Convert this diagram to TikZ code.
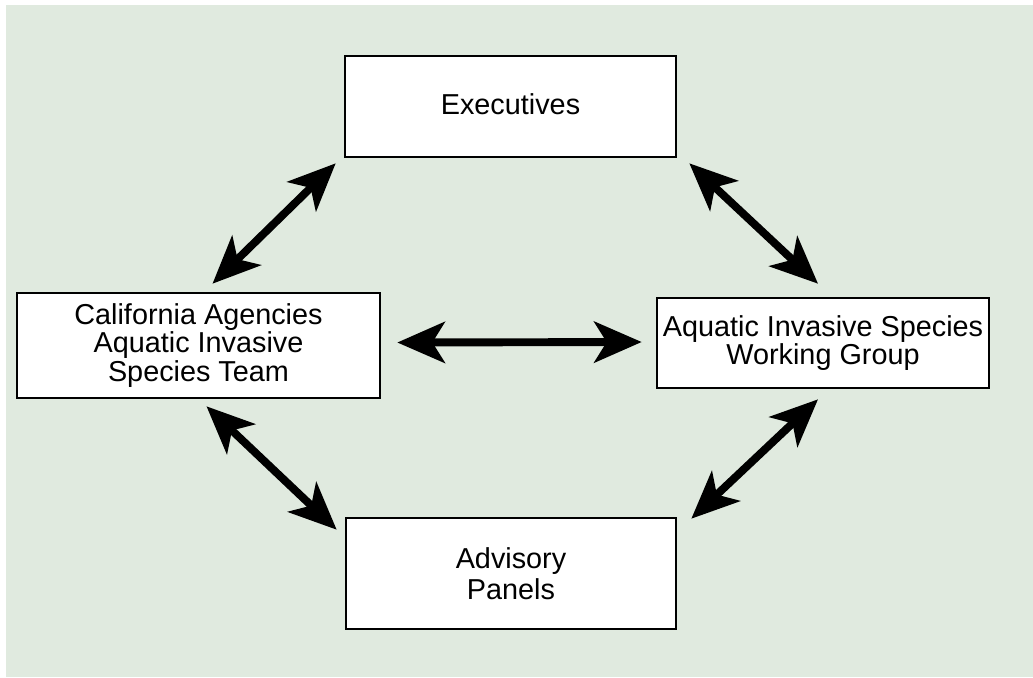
\documentclass[tikz,border=0pt]{standalone}
\usepackage{fontspec}
\setmainfont{Liberation Sans}
\usepackage{xcolor}
\usepackage{tikz}
\usetikzlibrary{arrows.meta,positioning,calc}

\definecolor{bgreen}{HTML}{E0EADF}

\tikzset{
    unit/.style={draw=black, line width=1.5pt, fill=white, align=center,
        font=\fontsize{16.4}{16}\selectfont, inner sep=0pt},
    link/.style={line width=4.5pt,
        {Stealth[length=0.95cm,width=0.82cm,inset=0.25cm]}-{Stealth[length=0.95cm,width=0.82cm,inset=0.25cm]}}
}

\begin{document}
\begin{tikzpicture}[x=0.02cm,y=-0.02cm]
    \useasboundingbox (0,0) rectangle (1033,677);
    \fill[white] (0,0) rectangle (1033,677);
    \fill[bgreen] (6,5) rectangle (1033,677);

    % boxes
    \node[unit, minimum width=331*0.02cm, minimum height=101*0.02cm] (exec) at (510.5,106.5) {\raisebox{3pt}{Executives}};
    \node[unit, minimum width=363*0.02cm, minimum height=105*0.02cm] (caist) at (198.5,345.5) {California Agencies\\Aquatic Invasive\\Species Team};
    \node[unit, minimum width=332*0.02cm, minimum height=90*0.02cm] (aiswg) at (823,343) {Aquatic Invasive Species\\Working Group};
    \node[unit, minimum width=330*0.02cm, minimum height=111*0.02cm] (panels) at (511,573.5) {Advisory\\[2pt]Panels};

    % connectors
    \draw[link] ($(caist.north)+(14,-8)$) -- ($(exec.south west)+(-8,5)$);
    \draw[link] ($(exec.south east)+(12,5)$) -- ($(aiswg.north)+(-5,-13)$);
    \draw[link] ($(caist.east)+(16,-3)$) -- ($(aiswg.west)+(-14,-1)$);
    \draw[link] ($(caist.south)+(8,7)$) -- ($(panels.north west)+(-8,13)$);
    \draw[link] ($(panels.north east)+(14,2)$) -- ($(aiswg.south)+(-5,10)$);
\end{tikzpicture}
\end{document}
